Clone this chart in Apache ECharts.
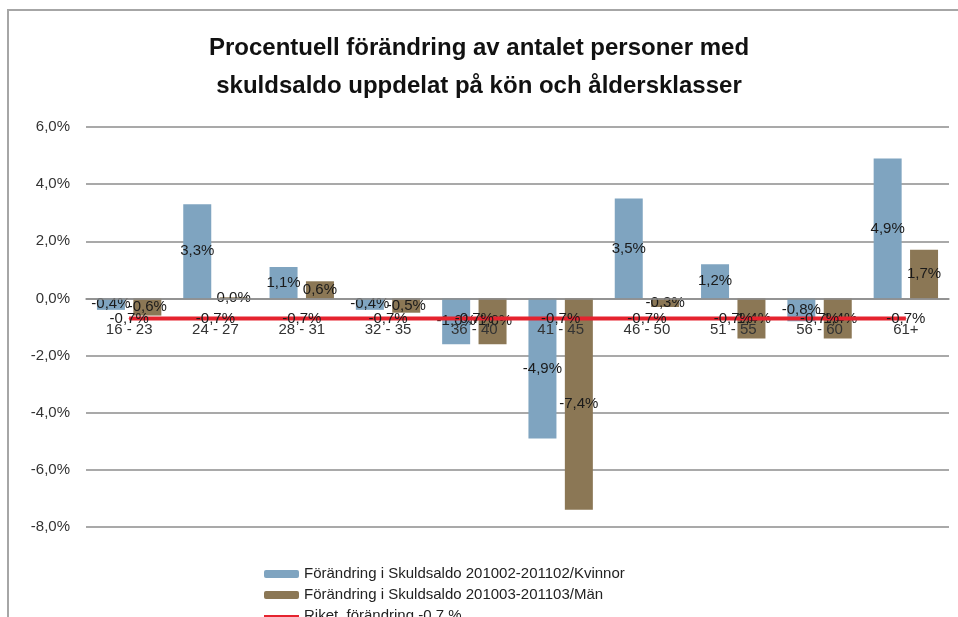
<!DOCTYPE html>
<html>
<head>
<meta charset="utf-8">
<script src="https://cdn.jsdelivr.net/npm/echarts@6/dist/echarts.min.js"></script>
<style>
html,body{margin:0;padding:0;background:#fff;}
#chart_con{width:958px;height:617px;}
</style>
</head>
<body>
<div id="chart_con"></div>
<script>
// kategorier och värden (procent)
const categories = ['16 - 23', '24 - 27', '28 - 31', '32 - 35', '36 - 40', '41 - 45', '46 - 50', '51 - 55', '56 - 60', '61+'];
const kvinnor = [-0.4, 3.3, 1.1, -0.4, -1.6, -4.9, 3.5, 1.2, -0.8, 4.9];
const man = [-0.6, 0.04, 0.6, -0.5, -1.6, -7.4, -0.3, -1.4, -1.4, 1.7];
const riket = [-0.7, -0.7, -0.7, -0.7, -0.7, -0.7, -0.7, -0.7, -0.7, -0.7];
const seriesNames = ['Förändring i Skuldsaldo 201002-201102/Kvinnor', 'Förändring i Skuldsaldo 201003-201103/Män', 'Riket, förändring -0.7 %'];
const yTicks = {min: -8, max: 6, interval: 2};

const font = 'Liberation Sans, Arial, sans-serif';
const labelGap = 24;
function pct(v){
    return v.toFixed(1).replace('.', ',') + '%';
}

var chart = echarts.init(document.getElementById('chart_con'));
const barLabel = {
    show: true,
    position: 'inside',
    color: '#1a1a1a',
    fontSize: 15,
    fontFamily: font,
    formatter: function(p){ return pct(p.value); }
};
const option = {
    backgroundColor: '#fff',
    animation: false,
    graphic: [{
        type: 'rect',
        shape: {x: 8, y: 10, width: 1200, height: 1200},
        style: {fill: 'none', stroke: '#a6a6a6', lineWidth: 2}
    }],
    title: {
        text: 'Procentuell förändring av antalet personer med\nskuldsaldo uppdelat på kön och åldersklasser',
        left: 'center',
        top: 24,
        textStyle: {
            fontFamily: font,
            fontSize: 24,
            fontWeight: 'bold',
            color: '#111',
            lineHeight: 38
        }
    },
    legend: {
        orient: 'vertical',
        left: 258,
        top: 561,
        height: 90,
        itemWidth: 35,
        itemHeight: 8,
        itemGap: 5,
        textStyle: {fontFamily: font, fontSize: 15, color: '#222', lineHeight: 16},
        data: [
            seriesNames[0],
            seriesNames[1],
            {name: seriesNames[2], itemStyle: {color: 'rgba(0,0,0,0)', borderWidth: 0}}
        ]
    },
    grid: {left: 86, right: 9, top: 127, bottom: 90},
    xAxis: {
        type: 'category',
        data: categories,
        z: 5,
        axisLine: {onZero: true, lineStyle: {color: '#8c8c8c', width: 1.5}},
        axisTick: {show: false},
        axisLabel: {margin: labelGap, color: '#333', fontSize: 15, fontFamily: font}
    },
    yAxis: {
        type: 'value',
        min: yTicks.min,
        max: yTicks.max,
        interval: yTicks.interval,
        axisLine: {show: false},
        axisTick: {show: false},
        splitLine: {lineStyle: {color: '#8c8c8c', width: 1.5}},
        axisLabel: {
            margin: 16,
            color: '#333',
            fontSize: 15,
            fontFamily: font,
            formatter: function(v){ return pct(v); }
        }
    },
    series: [
        {
            name: seriesNames[0],
            type: 'bar',
            data: kvinnor,
            barWidth: 28,
            barGap: '30%',
            itemStyle: {color: '#7fa4c0'},
            label: barLabel
        },
        {
            name: seriesNames[1],
            type: 'bar',
            data: man,
            barWidth: 28,
            itemStyle: {color: '#8b7755'},
            label: barLabel
        },
        {
            name: seriesNames[2],
            type: 'line',
            data: riket,
            symbol: 'circle',
            symbolSize: 1,
            itemStyle: {color: '#e5232e'},
            lineStyle: {color: '#e5232e', width: 4},
            label: {
                show: true,
                position: 'inside',
                color: '#1a1a1a',
                fontSize: 15,
                fontFamily: font,
                formatter: function(p){ return pct(p.value); }
            },
            z: 3
        }
    ]
};
chart.setOption(option);

// kategorietiketterna ska ligga vid nollinjen, inte längst ner
const xAxisY = chart.convertToPixel({yAxisIndex: 0}, yTicks.min);
const zeroY = chart.convertToPixel({yAxisIndex: 0}, 0);
if (xAxisY - zeroY > 1) {
    chart.setOption({xAxis: {axisLabel: {margin: labelGap - (xAxisY - zeroY)}}});
}

window.addEventListener('resize', function () {
    chart.resize();
});
</script>
</body>
</html>
